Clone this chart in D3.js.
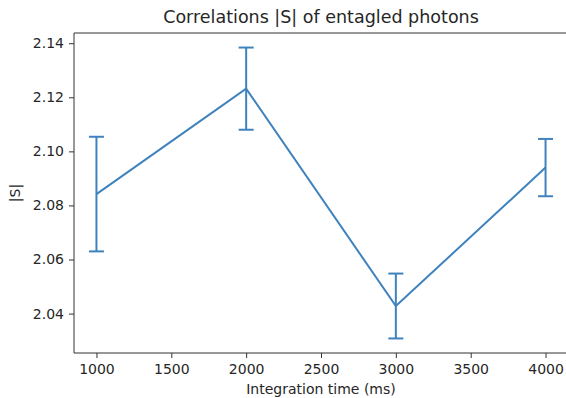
<!DOCTYPE html>
<html>
<head>
<meta charset="utf-8">
<script src="https://cdn.jsdelivr.net/npm/d3@7"></script>
<style>
  body { margin: 0; background: #fff; }
  text { font-family: "DejaVu Sans", sans-serif; fill: #262626; }
</style>
</head>
<body>
<svg id="chart"></svg>
<script>
// data
const times = [1000, 2000, 3000, 4000];
const sValues = [2.0842, 2.1232, 2.0428, 2.0940];
const sErrors = [0.0212, 0.0152, 0.0120, 0.0106];
const xTicks = [1000, 1500, 2000, 2500, 3000, 3500, 4000];
const yTicks = [2.04, 2.06, 2.08, 2.10, 2.12, 2.14];

const W = 566, H = 398;
const margin = {top: 33, right: -2, bottom: 45, left: 74};
const width = W - margin.left - margin.right,
  height = H - margin.top - margin.bottom;
const color = '#3f82bd';

// matplotlib-style 5% padding on both axes
const xPad = (d3.max(times) - d3.min(times)) * 0.05;
const lo = d3.min(sValues.map((v, i) => v - sErrors[i]));
const hi = d3.max(sValues.map((v, i) => v + sErrors[i]));
const yPad = (hi - lo) * 0.05;

const x = d3.scaleLinear()
  .domain([d3.min(times) - xPad, d3.max(times) + xPad])
  .range([0, width]);
const y = d3.scaleLinear()
  .domain([lo - yPad, hi + yPad])
  .range([height, 0]);

const svg = d3.select('#chart')
  .attr('width', W)
  .attr('height', H);

const g = svg.append('g')
  .attr('transform', 'translate(' + margin.left + ',' + margin.top + ')');

const xAxis = d3.axisBottom(x).tickValues(xTicks).tickSize(5).tickPadding(6).tickFormat(d3.format('d'));
const yAxis = d3.axisLeft(y).tickValues(yTicks).tickSize(5).tickPadding(5).tickFormat(d3.format('.2f'));

g.append('g')
  .attr('class', 'x axis')
  .attr('transform', 'translate(0,' + height + ')')
  .call(xAxis);
g.append('g')
  .attr('class', 'y axis')
  .call(yAxis);

g.selectAll('.axis path').remove();
g.selectAll('.axis line').attr('stroke', '#333').attr('stroke-width', 1);
g.selectAll('.axis text').style('font-size', '14px').attr('fill', '#262626');

// frame (right spine falls outside the window)
g.append('path')
  .attr('d', 'M' + width + ',0H0V' + height + 'H' + width)
  .attr('fill', 'none')
  .attr('stroke', '#333')
  .attr('stroke-width', 1);

// error bars
const cap = 7.5;
const bars = g.append('g').attr('class', 'errorbars');
times.forEach((t, i) => {
  const cx = x(t), top = y(sValues[i] + sErrors[i]), bot = y(sValues[i] - sErrors[i]);
  bars.append('line')
    .attr('x1', cx).attr('x2', cx).attr('y1', top).attr('y2', bot);
  bars.append('line')
    .attr('x1', cx - cap).attr('x2', cx + cap).attr('y1', top).attr('y2', top);
  bars.append('line')
    .attr('x1', cx - cap).attr('x2', cx + cap).attr('y1', bot).attr('y2', bot);
});
bars.selectAll('line')
  .attr('stroke', color)
  .attr('stroke-width', 2);

const line = d3.line()
  .x((d, i) => x(times[i]))
  .y(d => y(d));

g.append('path')
  .datum(sValues)
  .attr('d', line)
  .attr('fill', 'none')
  .attr('stroke', color)
  .attr('stroke-width', 2);

// labels
svg.append('text')
  .attr('x', margin.left + width / 2)
  .attr('y', 23)
  .attr('text-anchor', 'middle')
  .style('font-size', '17.5px')
  .text('Correlations |S| of entagled photons');

svg.append('text')
  .attr('x', margin.left + width / 2)
  .attr('y', 394)
  .attr('text-anchor', 'middle')
  .style('font-size', '14px')
  .text('Integration time (ms)');

svg.append('text')
  .attr('transform', 'translate(20,' + (margin.top + height / 2) + ') rotate(-90)')
  .attr('text-anchor', 'middle')
  .style('font-size', '14px')
  .text('|S|');
</script>
</body>
</html>
